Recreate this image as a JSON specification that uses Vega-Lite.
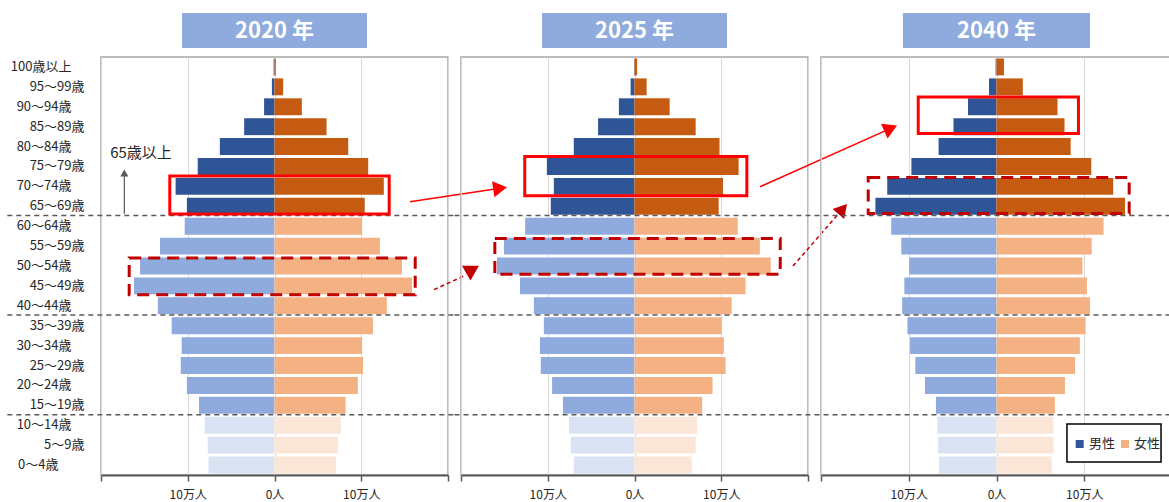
{
  "$schema": "https://vega.github.io/schema/vega-lite/v6.json",
  "padding": {"left": 5, "top": 13, "right": 0, "bottom": 0},
  "bounds": "flush",
  "columns": 3,
  "spacing": {"row": 9, "column": 13},
  "datasets": {
    "pyr": [
      {"year":2020,"age":"100歳以上","band":"65歳以上","male":-1000,"female":1500},
      {"year":2020,"age":"95～99歳","band":"65歳以上","male":-3000,"female":10000},
      {"year":2020,"age":"90～94歳","band":"65歳以上","male":-12000,"female":31500},
      {"year":2020,"age":"85～89歳","band":"65歳以上","male":-35000,"female":60000},
      {"year":2020,"age":"80～84歳","band":"65歳以上","male":-63000,"female":85000},
      {"year":2020,"age":"75～79歳","band":"65歳以上","male":-88500,"female":108000},
      {"year":2020,"age":"70～74歳","band":"65歳以上","male":-114000,"female":126000},
      {"year":2020,"age":"65～69歳","band":"65歳以上","male":-101000,"female":104000},
      {"year":2020,"age":"60～64歳","band":"15～64歳","male":-103500,"female":101000},
      {"year":2020,"age":"55～59歳","band":"15～64歳","male":-132000,"female":121500},
      {"year":2020,"age":"50～54歳","band":"15～64歳","male":-155000,"female":147000},
      {"year":2020,"age":"45～49歳","band":"15～64歳","male":-162000,"female":158500},
      {"year":2020,"age":"40～44歳","band":"15～64歳","male":-134500,"female":129500},
      {"year":2020,"age":"35～39歳","band":"15～64歳","male":-118500,"female":113500},
      {"year":2020,"age":"30～34歳","band":"15～64歳","male":-107000,"female":101000},
      {"year":2020,"age":"25～29歳","band":"15～64歳","male":-108000,"female":102000},
      {"year":2020,"age":"20～24歳","band":"15～64歳","male":-101000,"female":96000},
      {"year":2020,"age":"15～19歳","band":"15～64歳","male":-87000,"female":82000},
      {"year":2020,"age":"10～14歳","band":"0～14歳","male":-80500,"female":76500},
      {"year":2020,"age":"5～9歳","band":"0～14歳","male":-77000,"female":73000},
      {"year":2020,"age":"0～4歳","band":"0～14歳","male":-76000,"female":71000},
      {"year":2025,"age":"100歳以上","band":"65歳以上","male":-500,"female":3000},
      {"year":2025,"age":"95～99歳","band":"65歳以上","male":-4500,"female":14000},
      {"year":2025,"age":"90～94歳","band":"65歳以上","male":-18000,"female":40500},
      {"year":2025,"age":"85～89歳","band":"65歳以上","male":-42000,"female":70500},
      {"year":2025,"age":"80～84歳","band":"65歳以上","male":-70000,"female":98000},
      {"year":2025,"age":"75～79歳","band":"65歳以上","male":-101000,"female":120000},
      {"year":2025,"age":"70～74歳","band":"65歳以上","male":-93000,"female":102000},
      {"year":2025,"age":"65～69歳","band":"65歳以上","male":-96500,"female":97000},
      {"year":2025,"age":"60～64歳","band":"15～64歳","male":-126000,"female":119000},
      {"year":2025,"age":"55～59歳","band":"15～64歳","male":-150500,"female":144500},
      {"year":2025,"age":"50～54歳","band":"15～64歳","male":-158500,"female":157000},
      {"year":2025,"age":"45～49歳","band":"15～64歳","male":-132000,"female":128000},
      {"year":2025,"age":"40～44歳","band":"15～64歳","male":-116000,"female":112000},
      {"year":2025,"age":"35～39歳","band":"15～64歳","male":-104500,"female":100500},
      {"year":2025,"age":"30～34歳","band":"15～64歳","male":-109000,"female":103000},
      {"year":2025,"age":"25～29歳","band":"15～64歳","male":-108000,"female":105000},
      {"year":2025,"age":"20～24歳","band":"15～64歳","male":-95000,"female":90000},
      {"year":2025,"age":"15～19歳","band":"15～64歳","male":-82500,"female":78000},
      {"year":2025,"age":"10～14歳","band":"0～14歳","male":-75500,"female":72000},
      {"year":2025,"age":"5～9歳","band":"0～14歳","male":-73500,"female":70500},
      {"year":2025,"age":"0～4歳","band":"0～14歳","male":-70000,"female":66000},
      {"year":2040,"age":"100歳以上","band":"65歳以上","male":-1000,"female":8500},
      {"year":2040,"age":"95～99歳","band":"65歳以上","male":-8500,"female":30000},
      {"year":2040,"age":"90～94歳","band":"65歳以上","male":-32500,"female":69500},
      {"year":2040,"age":"85～89歳","band":"65歳以上","male":-49000,"female":77500},
      {"year":2040,"age":"80～84歳","band":"65歳以上","male":-66000,"female":84500},
      {"year":2040,"age":"75～79歳","band":"65歳以上","male":-97000,"female":108000},
      {"year":2040,"age":"70～74歳","band":"65歳以上","male":-124500,"female":133000},
      {"year":2040,"age":"65～69歳","band":"65歳以上","male":-138000,"female":146500},
      {"year":2040,"age":"60～64歳","band":"15～64歳","male":-120000,"female":122000},
      {"year":2040,"age":"55～59歳","band":"15～64歳","male":-108500,"female":108500},
      {"year":2040,"age":"50～54歳","band":"15～64歳","male":-99500,"female":98000},
      {"year":2040,"age":"45～49歳","band":"15～64歳","male":-105000,"female":103000},
      {"year":2040,"age":"40～44歳","band":"15～64歳","male":-107500,"female":106500},
      {"year":2040,"age":"35～39歳","band":"15～64歳","male":-101500,"female":101500},
      {"year":2040,"age":"30～34歳","band":"15～64歳","male":-98500,"female":95000},
      {"year":2040,"age":"25～29歳","band":"15～64歳","male":-92500,"female":89500},
      {"year":2040,"age":"20～24歳","band":"15～64歳","male":-81500,"female":78000},
      {"year":2040,"age":"15～19歳","band":"15～64歳","male":-69000,"female":66500},
      {"year":2040,"age":"10～14歳","band":"0～14歳","male":-67500,"female":65000},
      {"year":2040,"age":"5～9歳","band":"0～14歳","male":-66500,"female":65000},
      {"year":2040,"age":"0～4歳","band":"0～14歳","male":-65500,"female":63000}
    ]
  },
  "concat": [
    {
      "width": 347, "height": 35,
      "data": {"values": [{"label": "2020 年"}]},
      "layer": [
        {"mark": {"type": "rect", "color": "#8FAADC"},
         "encoding": {"x": {"datum": -106600, "type": "quantitative", "scale": {"domain": [-200000, 200000], "nice": false}, "axis": null}, "x2": {"datum": 106600}}},
        {"mark": {"type": "text", "color": "#FFFFFF", "fontSize": 22, "fontWeight": "bold", "baseline": "middle"},
         "encoding": {"x": {"datum": 0, "type": "quantitative"}, "text": {"field": "label"}}}
      ]
    },
    {
      "width": 347, "height": 35,
      "data": {"values": [{"label": "2025 年"}]},
      "layer": [
        {"mark": {"type": "rect", "color": "#8FAADC"},
         "encoding": {"x": {"datum": -106600, "type": "quantitative", "scale": {"domain": [-200000, 200000], "nice": false}, "axis": null}, "x2": {"datum": 106600}}},
        {"mark": {"type": "text", "color": "#FFFFFF", "fontSize": 22, "fontWeight": "bold", "baseline": "middle"},
         "encoding": {"x": {"datum": 0, "type": "quantitative"}, "text": {"field": "label"}}}
      ]
    },
    {
      "width": 351, "height": 35,
      "data": {"values": [{"label": "2040 年"}]},
      "layer": [
        {"mark": {"type": "rect", "color": "#8FAADC"},
         "encoding": {"x": {"datum": -106600, "type": "quantitative", "scale": {"domain": [-200000, 200000], "nice": false}, "axis": null}, "x2": {"datum": 106600}}},
        {"mark": {"type": "text", "color": "#FFFFFF", "fontSize": 22, "fontWeight": "bold", "baseline": "middle"},
         "encoding": {"x": {"datum": 0, "type": "quantitative"}, "text": {"field": "label"}}}
      ]
    },
    {
      "width": 347, "height": 418,
      "view": {"stroke": "#A6A6A6", "strokeWidth": 1.5},
      "resolve": {"scale": {"fill": "independent"}},
      "layer": [
        {"data": {"name": "pyr"}, "transform": [{"filter": "datum.year == 2020"}],
         "mark": {"type": "bar"},
         "encoding": {
           "y": {"field": "age", "type": "nominal", "scale": {"domain": ["100歳以上","95～99歳","90～94歳","85～89歳","80～84歳","75～79歳","70～74歳","65～69歳","60～64歳","55～59歳","50～54歳","45～49歳","40～44歳","35～39歳","30～34歳","25～29歳","20～24歳","15～19歳","10～14歳","5～9歳","0～4歳"], "paddingInner": 0.15, "paddingOuter": 0.075},
                 "axis": {"title": null, "ticks": false, "domain": false, "grid": false, "labelPadding": 17, "labelFontSize": 13, "labelColor": "#262626",
                          "labelExpr": "test(/^([1-9]0～|100)/, datum.value) ? datum.label + '　\u2060' : (datum.value == '0～4歳' ? datum.label + '　　\u2060' : datum.label)"}},
           "x": {"field": "male", "type": "quantitative", "scale": {"domain": [-200000, 200000], "nice": false},
                 "axis": {"title": null, "values": [-200000, -100000, 0, 100000, 200000], "labelExpr": "datum.value == 0 ? '0人' : (abs(datum.value) == 100000 ? '10万人' : '')", "grid": true, "gridColor": "#D9D9D9", "domainColor": "#595959", "domainWidth": 2, "tickColor": "#595959", "tickWidth": 1.5, "tickSize": 6, "labelPadding": 8, "labelFontSize": 12, "labelColor": "#262626", "labelFlush": false, "labelOverlap": false}},
           "fill": {"field": "band", "type": "nominal", "scale": {"domain": ["65歳以上","15～64歳","0～14歳"], "range": ["#2F5597","#8FAADC","#DAE3F3"]}, "legend": null}
         }},
        {"data": {"name": "pyr"}, "transform": [{"filter": "datum.year == 2020"}],
         "mark": {"type": "bar"},
         "encoding": {
           "y": {"field": "age", "type": "nominal"},
           "x": {"field": "female", "type": "quantitative"},
           "fill": {"field": "band", "type": "nominal", "scale": {"domain": ["65歳以上","15～64歳","0～14歳"], "range": ["#C55A11","#F4B183","#FBE5D6"]}, "legend": null}
         }},
        {"data": {"values": [{"age": "65～69歳"}, {"age": "40～44歳"}, {"age": "15～19歳"}]},
         "mark": {"type": "rule", "color": "#595959", "strokeWidth": 1.5, "strokeDash": [5, 4]},
         "encoding": {"y": {"field": "age", "type": "nominal", "bandPosition": 1.05}, "x": {"datum": -308000}, "x2": {"datum": 207500}}},
        {"data": {"values": [{}]},
         "mark": {"type": "rect", "filled": false, "stroke": "#FF0000", "strokeWidth": 3},
         "encoding": {"x": {"datum": -120700}, "x2": {"datum": 132200}, "y": {"datum": "70～74歳", "bandPosition": -0.12}, "y2": {"datum": "65～69歳", "bandPosition": 0.95}}},
        {"data": {"values": [{}]},
         "mark": {"type": "rect", "filled": false, "stroke": "#C00000", "strokeWidth": 3, "strokeDash": [12, 7]},
         "encoding": {"x": {"datum": -167500}, "x2": {"datum": 162200}, "y": {"datum": "50～54歳", "bandPosition": 0.02}, "y2": {"datum": "45～49歳", "bandPosition": 1.03}}},
        {"data": {"values": [{}]},
         "mark": {"type": "rule", "color": "#FF0000", "strokeWidth": 1.5},
         "encoding": {"x": {"datum": 156200}, "y": {"datum": "65～69歳", "bandPosition": 0.23}, "x2": {"datum": 260100}, "y2": {"datum": "70～74歳", "bandPosition": 0.61}}},
        {"data": {"values": [{}]},
         "mark": {"type": "point", "shape": "triangle-right", "filled": true, "color": "#FF0000", "opacity": 1, "size": 260, "angle": -8.5},
         "encoding": {"x": {"datum": 260100}, "y": {"datum": "70～74歳", "bandPosition": 0.61}}},
        {"data": {"values": [{}]},
         "mark": {"type": "rule", "color": "#C00000", "strokeWidth": 1.5, "strokeDash": [4, 3]},
         "encoding": {"x": {"datum": 183900}, "y": {"datum": "45～49歳", "bandPosition": 0.72}, "x2": {"datum": 220800}, "y2": {"datum": "50～54歳", "bandPosition": 1.03}}},
        {"data": {"values": [{}]},
         "mark": {"type": "point", "shape": "triangle-down", "filled": true, "color": "#C00000", "opacity": 1, "size": 290},
         "encoding": {"x": {"datum": 225900}, "y": {"datum": "50～54歳", "bandPosition": 0.92}}},
        {"data": {"values": [{"label": "65歳以上"}]},
         "mark": {"type": "text", "fontSize": 15, "color": "#262626", "baseline": "middle"},
         "encoding": {"x": {"datum": -153900}, "y": {"datum": "80～84歳", "bandPosition": 0.88}, "text": {"field": "label"}}},
        {"data": {"values": [{}]},
         "mark": {"type": "rule", "color": "#595959", "strokeWidth": 1.2},
         "encoding": {"x": {"datum": -173100}, "y": {"datum": "65～69歳", "bandPosition": 0.96}, "y2": {"datum": "75～79歳", "bandPosition": 0.95}}},
        {"data": {"values": [{}]},
         "mark": {"type": "point", "shape": "triangle-up", "filled": true, "color": "#595959", "opacity": 1, "size": 64},
         "encoding": {"x": {"datum": -173100}, "y": {"datum": "75～79歳", "bandPosition": 0.89}}}
      ]
    },
    {
      "width": 347, "height": 418,
      "view": {"stroke": "#A6A6A6", "strokeWidth": 1.5},
      "resolve": {"scale": {"fill": "independent"}},
      "layer": [
        {"data": {"name": "pyr"}, "transform": [{"filter": "datum.year == 2025"}],
         "mark": {"type": "bar"},
         "encoding": {
           "y": {"field": "age", "type": "nominal", "scale": {"domain": ["100歳以上","95～99歳","90～94歳","85～89歳","80～84歳","75～79歳","70～74歳","65～69歳","60～64歳","55～59歳","50～54歳","45～49歳","40～44歳","35～39歳","30～34歳","25～29歳","20～24歳","15～19歳","10～14歳","5～9歳","0～4歳"], "paddingInner": 0.15, "paddingOuter": 0.075}, "axis": null},
           "x": {"field": "male", "type": "quantitative", "scale": {"domain": [-200000, 200000], "nice": false},
                 "axis": {"title": null, "values": [-200000, -100000, 0, 100000, 200000], "labelExpr": "datum.value == 0 ? '0人' : (abs(datum.value) == 100000 ? '10万人' : '')", "grid": true, "gridColor": "#D9D9D9", "domainColor": "#595959", "domainWidth": 2, "tickColor": "#595959", "tickWidth": 1.5, "tickSize": 6, "labelPadding": 8, "labelFontSize": 12, "labelColor": "#262626", "labelFlush": false, "labelOverlap": false}},
           "fill": {"field": "band", "type": "nominal", "scale": {"domain": ["65歳以上","15～64歳","0～14歳"], "range": ["#2F5597","#8FAADC","#DAE3F3"]}, "legend": null}
         }},
        {"data": {"name": "pyr"}, "transform": [{"filter": "datum.year == 2025"}],
         "mark": {"type": "bar"},
         "encoding": {
           "y": {"field": "age", "type": "nominal"},
           "x": {"field": "female", "type": "quantitative"},
           "fill": {"field": "band", "type": "nominal", "scale": {"domain": ["65歳以上","15～64歳","0～14歳"], "range": ["#C55A11","#F4B183","#FBE5D6"]}, "legend": null}
         }},
        {"data": {"values": [{"age": "65～69歳"}, {"age": "40～44歳"}, {"age": "15～19歳"}]},
         "mark": {"type": "rule", "color": "#595959", "strokeWidth": 1.5, "strokeDash": [5, 4]},
         "encoding": {"y": {"field": "age", "type": "nominal", "bandPosition": 1.05}, "x": {"datum": -207500}, "x2": {"datum": 207500}}},
        {"data": {"values": [{}]},
         "mark": {"type": "rect", "filled": false, "stroke": "#FF0000", "strokeWidth": 3},
         "encoding": {"x": {"datum": -126500}, "x2": {"datum": 129500}, "y": {"datum": "75～79歳", "bandPosition": -0.09}, "y2": {"datum": "70～74歳", "bandPosition": 1.06}}},
        {"data": {"values": [{}]},
         "mark": {"type": "rect", "filled": false, "stroke": "#C00000", "strokeWidth": 3, "strokeDash": [12, 7]},
         "encoding": {"x": {"datum": -161000}, "x2": {"datum": 168000}, "y": {"datum": "55～59歳", "bandPosition": 0.05}, "y2": {"datum": "50～54歳", "bandPosition": 0.99}}},
        {"data": {"values": [{}]},
         "mark": {"type": "rule", "color": "#FF0000", "strokeWidth": 1.5},
         "encoding": {"x": {"datum": 144700}, "y": {"datum": "70～74歳", "bandPosition": 0.52}, "x2": {"datum": 295300}, "y2": {"datum": "85～89歳", "bandPosition": 0.6}}},
        {"data": {"values": [{}]},
         "mark": {"type": "point", "shape": "triangle-right", "filled": true, "color": "#FF0000", "opacity": 1, "size": 260, "angle": -24},
         "encoding": {"x": {"datum": 295300}, "y": {"datum": "85～89歳", "bandPosition": 0.6}}},
        {"data": {"values": [{}]},
         "mark": {"type": "rule", "color": "#C00000", "strokeWidth": 1.5, "strokeDash": [4, 3]},
         "encoding": {"x": {"datum": 182700}, "y": {"datum": "50～54歳", "bandPosition": 0.5}, "x2": {"datum": 240000}, "y2": {"datum": "65～69歳", "bandPosition": 0.66}}},
        {"data": {"values": [{}]},
         "mark": {"type": "point", "shape": "triangle-right", "filled": true, "color": "#C00000", "opacity": 1, "size": 230, "angle": -48.9},
         "encoding": {"x": {"datum": 240000}, "y": {"datum": "65～69歳", "bandPosition": 0.66}}}
      ]
    },
    {
      "width": 351, "height": 418,
      "view": {"stroke": "#A6A6A6", "strokeWidth": 1.5},
      "resolve": {"scale": {"fill": "independent"}},
      "layer": [
        {"data": {"name": "pyr"}, "transform": [{"filter": "datum.year == 2040"}],
         "mark": {"type": "bar"},
         "encoding": {
           "y": {"field": "age", "type": "nominal", "scale": {"domain": ["100歳以上","95～99歳","90～94歳","85～89歳","80～84歳","75～79歳","70～74歳","65～69歳","60～64歳","55～59歳","50～54歳","45～49歳","40～44歳","35～39歳","30～34歳","25～29歳","20～24歳","15～19歳","10～14歳","5～9歳","0～4歳"], "paddingInner": 0.15, "paddingOuter": 0.075}, "axis": null},
           "x": {"field": "male", "type": "quantitative", "scale": {"domain": [-200000, 200000], "nice": false},
                 "axis": {"title": null, "values": [-200000, -100000, 0, 100000, 200000], "labelExpr": "datum.value == 0 ? '0人' : (abs(datum.value) == 100000 ? '10万人' : '')", "grid": true, "gridColor": "#D9D9D9", "domainColor": "#595959", "domainWidth": 2, "tickColor": "#595959", "tickWidth": 1.5, "tickSize": 6, "labelPadding": 8, "labelFontSize": 12, "labelColor": "#262626", "labelFlush": false, "labelOverlap": false}},
           "fill": {"field": "band", "type": "nominal", "scale": {"domain": ["65歳以上","15～64歳","0～14歳"], "range": ["#2F5597","#8FAADC","#DAE3F3"]}, "legend": null}
         }},
        {"data": {"name": "pyr"}, "transform": [{"filter": "datum.year == 2040"}],
         "mark": {"type": "bar"},
         "encoding": {
           "y": {"field": "age", "type": "nominal"},
           "x": {"field": "female", "type": "quantitative"},
           "fill": {"field": "band", "type": "nominal", "scale": {"domain": ["65歳以上","15～64歳","0～14歳"], "range": ["#C55A11","#F4B183","#FBE5D6"]}, "legend": null}
         }},
        {"data": {"values": [{"age": "65～69歳"}, {"age": "40～44歳"}, {"age": "15～19歳"}]},
         "mark": {"type": "rule", "color": "#595959", "strokeWidth": 1.5, "strokeDash": [5, 4]},
         "encoding": {"y": {"field": "age", "type": "nominal", "bandPosition": 1.05}, "x": {"datum": -207400}, "x2": {"datum": 200000}}},
        {"data": {"values": [{}]},
         "mark": {"type": "rect", "filled": false, "stroke": "#FF0000", "strokeWidth": 3},
         "encoding": {"x": {"datum": -89200}, "x2": {"datum": 93400}, "y": {"datum": "90～94歳", "bandPosition": -0.07}, "y2": {"datum": "85～89歳", "bandPosition": 0.9}}},
        {"data": {"values": [{}]},
         "mark": {"type": "rect", "filled": false, "stroke": "#C00000", "strokeWidth": 3, "strokeDash": [12, 7]},
         "encoding": {"x": {"datum": -146200}, "x2": {"datum": 151200}, "y": {"datum": "70～74歳", "bandPosition": -0.02}, "y2": {"datum": "65～69歳", "bandPosition": 0.93}}},
        {"data": {"values": [{}]},
         "mark": {"type": "rect", "fill": "#FFFFFF", "stroke": "#000000", "strokeWidth": 1.5},
         "encoding": {"x": {"datum": 80300}, "x2": {"datum": 187500}, "y": {"datum": "10～14歳", "bandPosition": 0.43}, "y2": {"datum": "0～4歳", "bandPosition": 0.32}}},
        {"data": {"values": [{}]},
         "mark": {"type": "point", "shape": "square", "filled": true, "color": "#2F5597", "opacity": 1, "size": 64},
         "encoding": {"x": {"datum": 94800}, "y": {"datum": "5～9歳", "bandPosition": 0.43}}},
        {"data": {"values": [{"label": "男性"}]},
         "mark": {"type": "text", "fontSize": 13, "color": "#262626", "align": "left", "baseline": "middle"},
         "encoding": {"x": {"datum": 105400}, "y": {"datum": "5～9歳", "bandPosition": 0.43}, "text": {"field": "label"}}},
        {"data": {"values": [{}]},
         "mark": {"type": "point", "shape": "square", "filled": true, "color": "#F4B183", "opacity": 1, "size": 64},
         "encoding": {"x": {"datum": 146400}, "y": {"datum": "5～9歳", "bandPosition": 0.43}}},
        {"data": {"values": [{"label": "女性"}]},
         "mark": {"type": "text", "fontSize": 13, "color": "#262626", "align": "left", "baseline": "middle"},
         "encoding": {"x": {"datum": 156700}, "y": {"datum": "5～9歳", "bandPosition": 0.43}, "text": {"field": "label"}}}
      ]
    }
  ],
  "config": {
    "font": "Noto Sans CJK JP",
    "view": {"stroke": null}
  }
}
